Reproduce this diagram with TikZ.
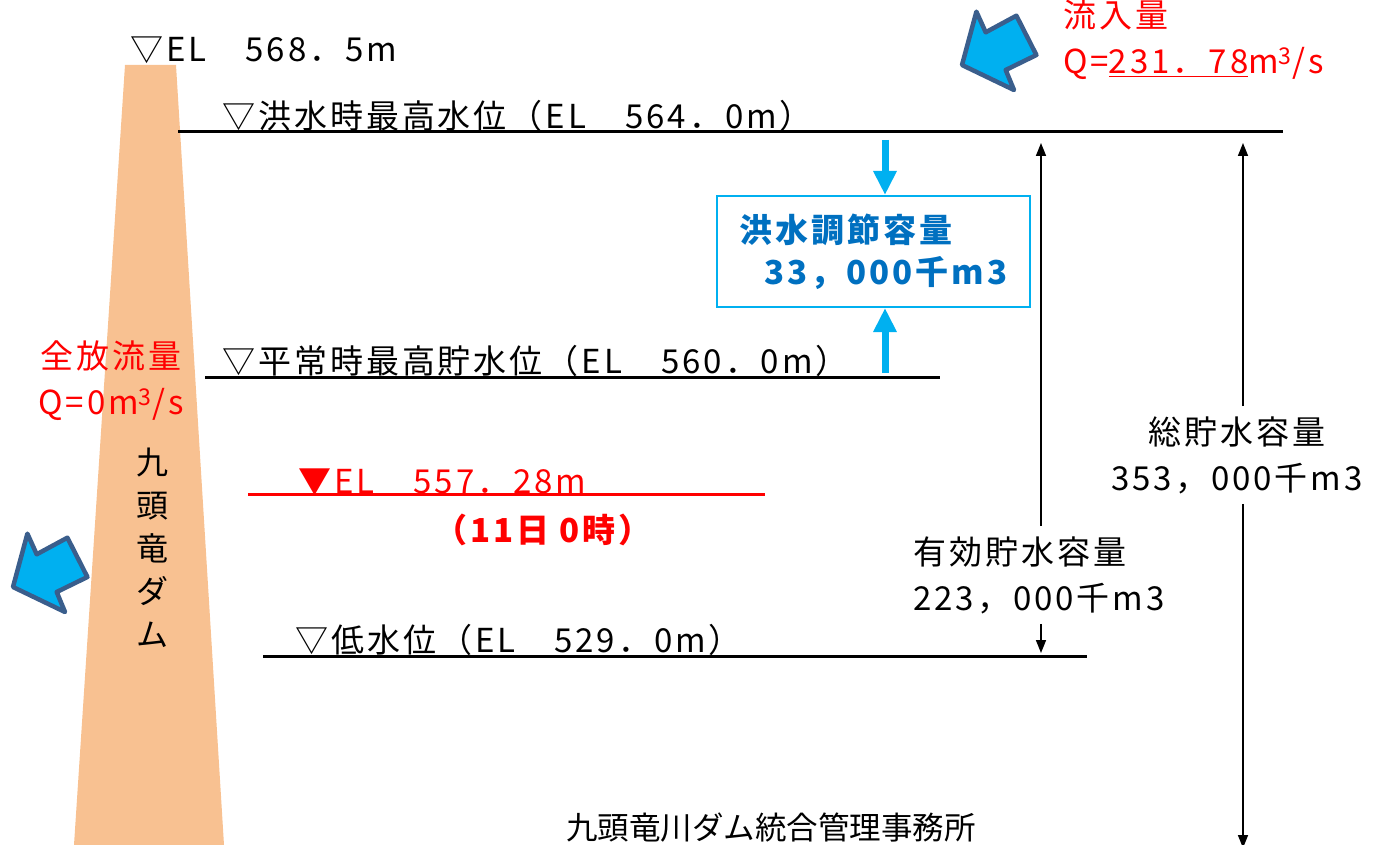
\documentclass[tikz,border=0pt]{standalone}
\usepackage{fontspec}
\setmainfont[LetterSpace=9]{Noto Sans CJK JP}
\newfontfamily\plainfont{Noto Sans CJK JP}
\usetikzlibrary{arrows.meta}
\definecolor{damfill}{RGB}{248,193,145}
\definecolor{flowblue}{RGB}{0,176,240}
\definecolor{flowedge}{RGB}{58,94,140}
\definecolor{boxtext}{RGB}{0,112,192}
\def\levelSize{\fontsize{33}{46}\selectfont}
\tikzset{
  level/.style={line width=3pt},
  levelText/.style={anchor=base west,inner sep=0pt,font=\levelSize},
  infoText/.style={align=center,inner sep=10pt,font=\levelSize},
  redText/.style={infoText,text=red},
  floodBox/.style={draw=flowblue,line width=2pt,minimum width=313pt,minimum height=111pt,
    align=left,text=boxtext,font=\fontsize{33}{42}\selectfont\bfseries},
  capArrow/.style={flowblue,line width=7pt,-{Triangle[length=24pt,width=22pt]}},
  dimArrow/.style={line width=1.6pt,-{Triangle[length=13pt,width=10pt]}},
  inflow/.pic={
    \filldraw[fill=flowblue,draw=flowedge,line width=4.5pt,line join=round]
      (0,0) -- (14.4,-53.3) -- (23.7,-32.7) -- (54.4,-49.3) -- (74.4,-10)
      -- (43.7,5) -- (52,25) -- cycle;
  }
}

\begin{document}
\begin{tikzpicture}[x=1pt,y=-1pt]
  \useasboundingbox (0,0) rectangle (1385,845);

  \fill[damfill] (125,65) -- (176,65) -- (224,845) -- (74,845) -- cycle;
  \node[font=\fontsize{32}{43}\selectfont,align=center] (dam) at (152,548) {九\\頭\\竜\\ダ\\ム};
  \node[levelText] (crest) at (130,62) {▽EL　568．5m};

  \draw[level] (178,132) coordinate (hwl-w) -- (1283,132) coordinate (hwl-e);
  \node[levelText] (hwl) at (222,129) {▽洪水時最高水位（EL　564．0m）};

  \draw[level] (205,377) coordinate (nwl-w) -- (940,377) coordinate (nwl-e);
  \node[levelText] (nwl) at (222,373) {▽平常時最高貯水位（EL　560．0m）};

  \draw[level,red] (248,494) coordinate (now-w) -- (765,494) coordinate (now-e);
  \node[levelText,text=red] (now) at (298,493) {▼EL　557．28m};
  \node[redText,font=\levelSize\bfseries] (nowTime) at (543,530) {（11日 0時）};

  \draw[level] (263,656) coordinate (lwl-w) -- (1087,656) coordinate (lwl-e);
  \node[levelText] (lwl) at (295,652) {▽低水位（EL　529．0m）};

  \node[floodBox] (flood) at (873.5,251.5) {洪水調節容量\\\hspace{25pt}33，000千m3};
  \coordinate (floodTop) at (885,140);
  \coordinate (floodBot) at (885,373);
  \draw[capArrow] (floodTop) -- (floodTop |- flood.north);
  \draw[capArrow] (floodBot) -- (floodBot |- flood.south);

  \node[infoText,align=left,anchor=west] (eff) at (903,575) {有効貯水容量\\223，000千m3};
  \coordinate (effTop) at (1041,143);
  \coordinate (effBot) at (1041,653);
  \draw[dimArrow] (effTop |- eff.north) -- (effTop);
  \draw[dimArrow] (effBot |- eff.south) -- (effBot);

  \node[infoText] (total) at (1237,455) {総貯水容量\\353，000千m3};
  \coordinate (totalTop) at (1243,143);
  \coordinate (totalBot) at (1243,848);
  \draw[dimArrow] (totalTop |- total.north) -- (totalTop);
  \draw[dimArrow] (totalBot |- total.south) -- (totalBot);

  \node[redText] (outflow) at (111,381) {全放流量\\Q=0m\textsuperscript{3}/s};
  \pic at (13,587) {inflow};

  \node[redText,align=left,anchor=north west,inner sep=0pt] (inflowText) at (1063,0)
    {流入量\\Q=\underline{231．78}m\textsuperscript{3}/s};
  \pic at (962,65) {inflow};

  \node[font=\plainfont\fontsize{31.5}{36}\selectfont] (office) at (771,828) {九頭竜川ダム統合管理事務所};
\end{tikzpicture}
\end{document}
